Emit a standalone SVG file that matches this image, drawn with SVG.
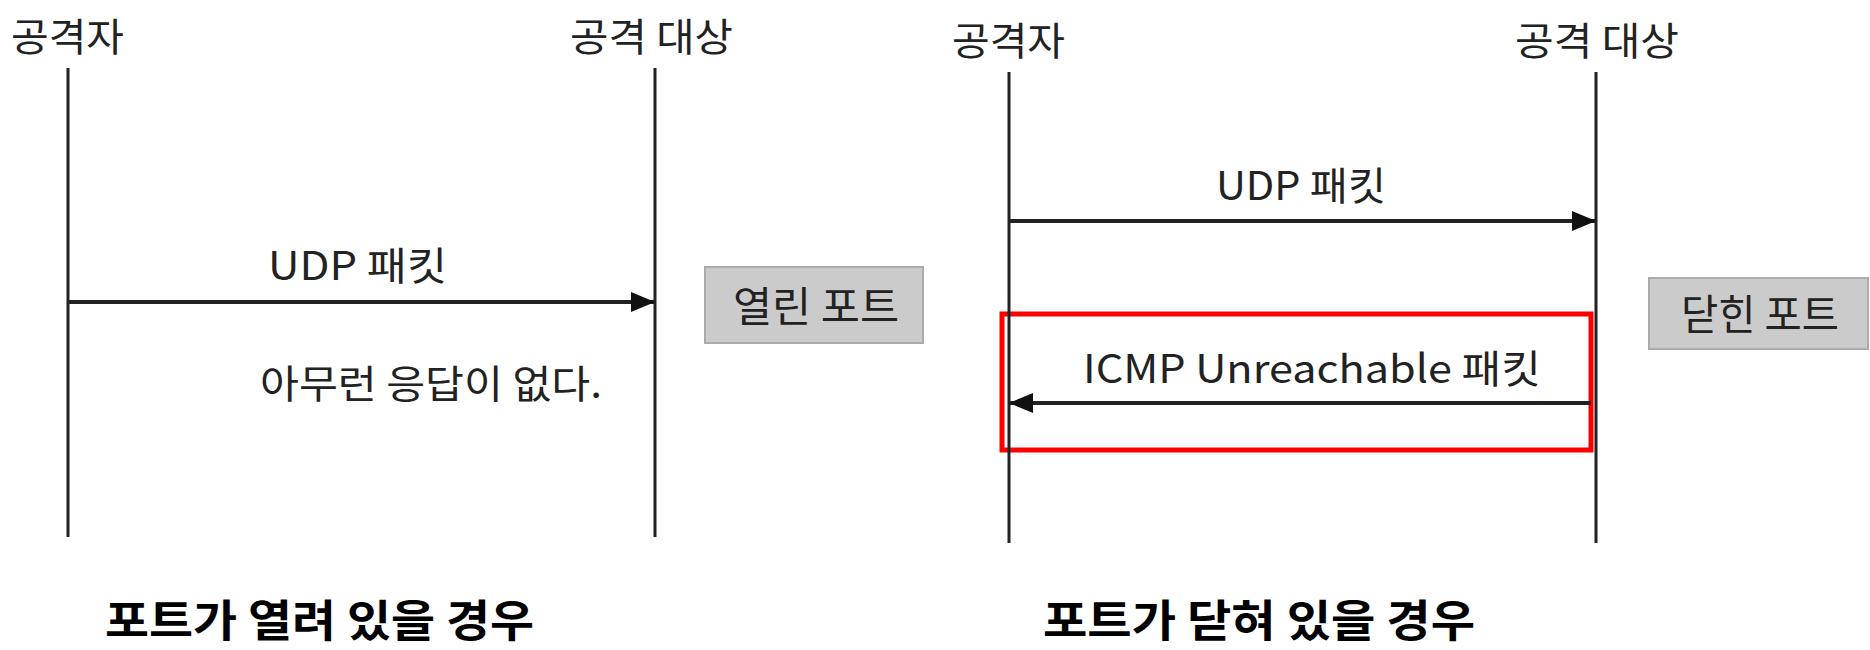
<svg xmlns="http://www.w3.org/2000/svg" width="1870" height="650" viewBox="0 0 1870 650">
<defs>
<style>
.t{font-family:"Noto Sans CJK KR","Noto Sans",sans-serif;fill:#222;font-size:39px}
.bl{font-family:"Noto Sans CJK KR","Noto Sans",sans-serif;fill:#222;font-size:42px}
.b{font-family:"Noto Sans CJK KR","Noto Sans",sans-serif;fill:#000;font-size:44px;font-weight:bold}
.life{stroke:#222;stroke-width:3;fill:none}
.msg{stroke:#222;stroke-width:4;fill:none}
.box{fill:#cbcbcb;stroke:#ababab;stroke-width:2}
</style>
<marker id="ah" viewBox="0 0 12 10" refX="12" refY="5" markerUnits="userSpaceOnUse" markerWidth="24" markerHeight="20" orient="auto">
<path d="M0,0 L12,5 L0,10 z" fill="#111"/>
</marker>
</defs>
<rect width="1870" height="650" fill="#fff"/>
<g id="left-attacker"><text class="t" x="11" y="51" textLength="113" lengthAdjust="spacingAndGlyphs">공격자</text></g>
<g id="left-target"><text class="t" x="570" y="51" textLength="163" lengthAdjust="spacingAndGlyphs">공격 대상</text></g>
<g id="right-attacker"><text class="t" x="952" y="55" textLength="113" lengthAdjust="spacingAndGlyphs">공격자</text></g>
<g id="right-target"><text class="t" x="1515" y="55" textLength="164" lengthAdjust="spacingAndGlyphs">공격 대상</text></g>
<g id="open-port"><rect class="box" x="705" y="267" width="218" height="76"/><text class="bl" x="816" y="322" text-anchor="middle" textLength="166" lengthAdjust="spacingAndGlyphs">열린 포트</text></g>
<g id="closed-port"><rect class="box" x="1649" y="278" width="219" height="71"/><text class="bl" x="1760" y="330" text-anchor="middle" textLength="158" lengthAdjust="spacingAndGlyphs">닫힌 포트</text></g>
<g id="highlight"><rect x="1002" y="314" width="589" height="136" fill="none" stroke="#f00" stroke-width="5"/></g>
<g id="connectors">
<line class="life" x1="68" y1="68" x2="68" y2="537"/>
<line class="life" x1="655" y1="68" x2="655" y2="537"/>
<line class="life" x1="1009" y1="72" x2="1009" y2="543"/>
<line class="life" x1="1596" y1="72" x2="1596" y2="543"/>
<line class="msg" x1="68" y1="302" x2="655" y2="302" marker-end="url(#ah)"/>
<line class="msg" x1="1009" y1="221" x2="1596" y2="221" marker-end="url(#ah)"/>
<line class="msg" x1="1591" y1="403" x2="1009" y2="403" marker-end="url(#ah)"/>
</g>
<g id="labels">
<text class="t" x="268" y="280" textLength="179" lengthAdjust="spacingAndGlyphs">UDP 패킷</text>
<text class="t" x="260" y="398" textLength="342" lengthAdjust="spacingAndGlyphs">아무런 응답이 없다.</text>
<text class="t" x="1216" y="200" textLength="170" lengthAdjust="spacingAndGlyphs">UDP 패킷</text>
<text class="t" x="1083" y="383" textLength="458" lengthAdjust="spacingAndGlyphs">ICMP Unreachable 패킷</text>
</g>
<g id="captions">
<text class="b" x="105" y="637" textLength="429" lengthAdjust="spacingAndGlyphs">포트가 열려 있을 경우</text>
<text class="b" x="1043" y="637" textLength="432" lengthAdjust="spacingAndGlyphs">포트가 닫혀 있을 경우</text>
</g>
</svg>
